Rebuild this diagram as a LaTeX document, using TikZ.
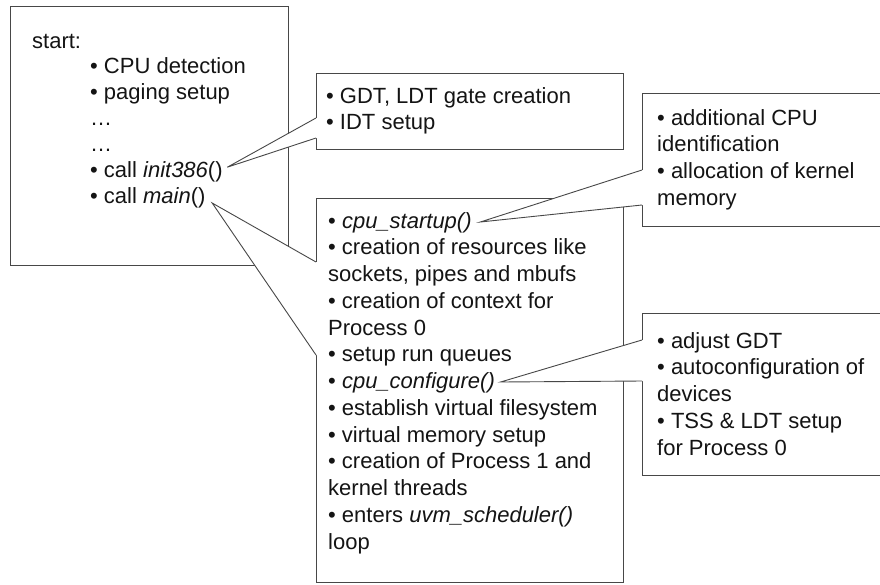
\documentclass[tikz,border=0pt]{standalone}
\usepackage{fontspec}
\setmainfont{Liberation Sans}
\usetikzlibrary{calc}

\tikzset{
  box/.style={draw=black!72, line width=0.9pt, fill=white, inner sep=0pt, anchor=north west},
  wedgeline/.style={draw=black!72, line width=0.9pt, line join=miter},
  txt/.style={anchor=base west, inner sep=0pt, text=black!92,
              font=\fontsize{22}{26}\selectfont},
}

\begin{document}
\begin{tikzpicture}[x=1pt,y=-1pt]
\path[use as bounding box] (0,0) rectangle (880,584);
\clip (0,0) rectangle (880,584);
\fill[white] (0,0) rectangle (880,584);

% ---- start-up sequence ----
\node[box, minimum width=278pt, minimum height=259pt] (boot) at (10,6) {};
\node[txt] (a0) at (32,48)      {start:};
\node[txt] (a1) at (90,73.8)    {• CPU detection};
\node[txt] (a2) at (90,99.7)    {• paging setup};
\node[txt] (a3) at (90,125.5)   {…};
\node[txt] (a4) at (90,151.3)   {…};
\node[txt] (a5) at (90,177.2)   {• call \textit{init386}()};
\node[txt] (a6) at (90,203)     {• call \textit{main}()};

% ---- init386() callout ----
\node[box, minimum width=307pt, minimum height=76pt] (gdt) at (316,73) {};
\coordinate (gdtA) at (316,118);
\coordinate (gdtB) at (316,138);
\coordinate (tipInit) at ($(a5.base east)+(4.5pt,10pt)$);
\fill[white] (gdtA) -- ($(gdtA)+(2,0)$) -- ($(gdtB)+(2,0)$) -- (gdtB) -- (tipInit) -- cycle;
\draw[wedgeline] (gdtA) -- (tipInit) -- (gdtB);
\node[txt] (b1) at (326,103) {• GDT, LDT gate creation};
\node[txt] (b2) at (326,129) {• IDT setup};

% ---- main() callout ----
\node[box, minimum width=307pt, minimum height=384pt] (mainbox) at (316,198) {};
\coordinate (mainA) at (316,262);
\coordinate (mainB) at (316,355);
\coordinate (tipMain) at ($(a6.base east)+(6.5pt,0pt)$);
\fill[white] (mainA) -- ($(mainA)+(2,0)$) -- ($(mainB)+(2,0)$) -- (mainB) -- (tipMain) -- cycle;
\draw[wedgeline] (mainA) -- (tipMain) -- (mainB);
\node[txt] (c0)  at (328,228)    {• \textit{cpu\_startup()}};
\node[txt] (c1)  at (328,254.75) {• creation of resources like};
\node[txt] (c2)  at (328,281.5)  {sockets, pipes and mbufs};
\node[txt] (c3)  at (328,308.25) {• creation of context for};
\node[txt] (c4)  at (328,335)    {Process 0};
\node[txt] (c5)  at (328,361.75) {• setup run queues};
\node[txt] (c6)  at (328,388.5)  {• \textit{cpu\_configure()}};
\node[txt] (c7)  at (328,415.25) {• establish virtual filesystem};
\node[txt] (c8)  at (328,442)    {• virtual memory setup};
\node[txt] (c9)  at (328,468.75) {• creation of Process 1 and};
\node[txt] (c10) at (328,495.5)  {kernel threads};
\node[txt] (c11) at (328,522.25) {• enters \textit{uvm\_scheduler()}};
\node[txt] (c12) at (328,549)    {loop};

% ---- cpu_startup() callout ----
\node[box, minimum width=250pt, minimum height=133pt] (startup) at (642,93) {};
\coordinate (startA) at (642,170);
\coordinate (startB) at (642,205);
\coordinate (tipStartup) at ($(c0.base east)+(8.5pt,6pt)$);
\fill[white] (startA) -- ($(startA)+(2,0)$) -- ($(startB)+(2,0)$) -- (startB) -- (tipStartup) -- cycle;
\draw[wedgeline] (startA) -- (tipStartup) -- (startB);
\node[txt] (d1) at (657,125)    {• additional CPU};
\node[txt] (d2) at (657,151.75) {identification};
\node[txt] (d3) at (657,178.5)  {• allocation of kernel};
\node[txt] (d4) at (657,205.25) {memory};

% ---- cpu_configure() callout ----
\node[box, minimum width=250pt, minimum height=162pt] (config) at (642,313) {};
\coordinate (confA) at (642,340);
\coordinate (confB) at (642,381);
\coordinate (tipConfig) at ($(c6.base east)+(5.5pt,6.5pt)$);
\fill[white] (confA) -- ($(confA)+(2,0)$) -- ($(confB)+(2,0)$) -- (confB) -- (tipConfig) -- cycle;
\draw[wedgeline] (confA) -- (tipConfig) -- (confB);
\node[txt] (e1) at (657,348)    {• adjust GDT};
\node[txt] (e2) at (657,374.75) {• autoconfiguration of};
\node[txt] (e3) at (657,401.5)  {devices};
\node[txt] (e4) at (657,428.25) {• TSS \& LDT setup};
\node[txt] (e5) at (657,455)    {for Process 0};
\end{tikzpicture}
\end{document}
